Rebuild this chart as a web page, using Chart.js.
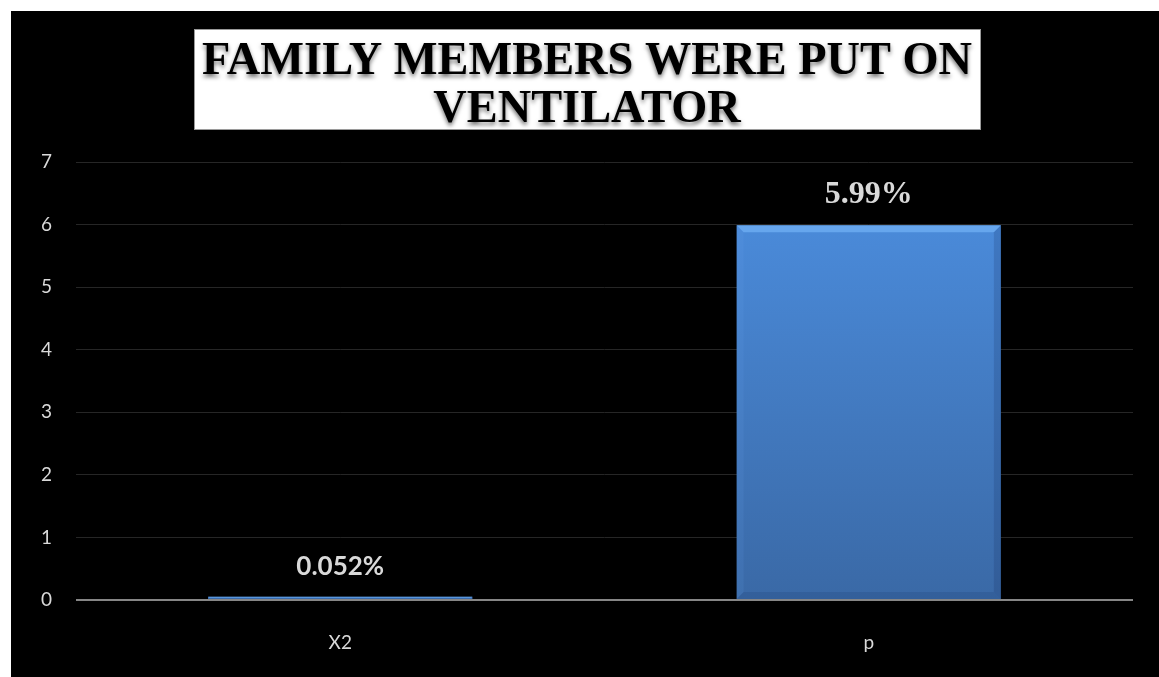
<!DOCTYPE html>
<html>
<head>
<meta charset="utf-8">
<script src="https://cdn.jsdelivr.net/npm/chart.js@4"></script>
<style>
  body { margin: 0; background: #fff; }
  #wrap { position: absolute; left: 11px; top: 11px; width: 1148px; height: 666px; background: #000; }
</style>
</head>
<body>
<div id="wrap"><canvas id="ventChart"></canvas></div>
<script>
// categories and values
const categories = ['X2', 'p'];
const values = [0.052, 5.99];
const valueLabels = ['0.052%', '5.99%'];
const titleLines = ['FAMILY MEMBERS WERE PUT ON', 'VENTILATOR'];

// fonts for the value labels above each bar
const valueFonts = ['bold 26px Lato', 'bold 32px "Liberation Serif"'];

// bar fill: top to bottom gradient per bar
function barFill(c) {
  const chart = c.chart;
  if (!chart.chartArea || c.type !== 'data') return '#4a86d4';
  const top = chart.scales.y.getPixelForValue(c.raw);
  const base = chart.scales.y.getPixelForValue(0);
  const g = chart.ctx.createLinearGradient(0, top, 0, Math.max(base, top + 1));
  g.addColorStop(0, '#4a8ad9');
  g.addColorStop(1, '#3a69a6');
  return g;
}

// white title box with shadowed serif caps
const titleBox = {
  id: 'titleBox',
  afterDraw(chart) {
    const ctx = chart.ctx;
    ctx.save();
    ctx.fillStyle = '#fff';
    ctx.fillRect(183, 18, 787, 101);
    ctx.strokeStyle = '#9a9a9a';
    ctx.lineWidth = 1;
    ctx.strokeRect(183.5, 18.5, 786, 100);
    ctx.font = 'bold 47px "Liberation Serif"';
    ctx.textAlign = 'center';
    ctx.textBaseline = 'alphabetic';
    const sx = 770 / ctx.measureText(titleLines[0]).width;
    ctx.shadowColor = 'rgba(0,0,0,0.55)';
    ctx.shadowOffsetY = 3;
    ctx.shadowBlur = 4;
    ctx.fillStyle = '#000';
    ctx.translate(576, 0);
    ctx.scale(sx, 1);
    ctx.fillText(titleLines[0], 0, 63);
    ctx.fillText(titleLines[1], 0, 111);
    ctx.restore();
  }
};

// bevel edges and value labels on the bars
const barDeco = {
  id: 'barDeco',
  afterDatasetsDraw(chart) {
    const ctx = chart.ctx;
    const meta = chart.getDatasetMeta(0);
    ctx.save();
    meta.data.forEach((bar, i) => {
      const x0 = bar.x - bar.width / 2, x1 = bar.x + bar.width / 2;
      const y0 = bar.y, y1 = bar.base;
      const b = Math.min(7, (y1 - y0) / 2);
      const poly = (pts, col) => {
        ctx.beginPath();
        ctx.moveTo(pts[0][0], pts[0][1]);
        pts.slice(1).forEach(p => ctx.lineTo(p[0], p[1]));
        ctx.closePath();
        ctx.fillStyle = col;
        ctx.fill();
      };
      poly([[x0, y0], [x1, y0], [x1 - b, y0 + b], [x0 + b, y0 + b]], 'rgba(125,190,255,0.55)');
      poly([[x0, y0], [x0 + b, y0 + b], [x0 + b, y1 - b], [x0, y1]], 'rgba(110,165,235,0.12)');
      poly([[x1, y0], [x1 - b, y0 + b], [x1 - b, y1 - b], [x1, y1]], 'rgba(15,40,90,0.18)');
      poly([[x0, y1], [x0 + b, y1 - b], [x1 - b, y1 - b], [x1, y1]], 'rgba(15,40,90,0.15)');

      ctx.font = valueFonts[i];
      ctx.fillStyle = '#d9d9d9';
      ctx.textAlign = 'center';
      ctx.textBaseline = 'middle';
      ctx.fillText(valueLabels[i], bar.x, bar.y - 30);
    });
    ctx.restore();
  }
};

const ventData = {
  labels: categories,
  datasets: [{
    data: values,
    backgroundColor: barFill,
    borderWidth: 0,
    categoryPercentage: 0.5,
    barPercentage: 1
  }]
};

const ventConfig = {
  type: 'bar',
  data: ventData,
  options: {
    responsive: true,
    maintainAspectRatio: false,
    animation: false,
    layout: { padding: { top: 151, right: 26, left: 0, bottom: 0 } },
    plugins: {
      legend: { display: false },
      tooltip: { enabled: false },
      title: { display: false }
    },
    scales: {
      x: {
        grid: { display: false },
        border: { display: false },
        ticks: { color: '#d9d9d9', font: { family: 'Lato', size: 19 }, padding: 23 },
        afterFit(s) { s.height = 77; }
      },
      y: {
        min: 0,
        max: 7,
        ticks: { stepSize: 1, color: '#d9d9d9', font: { family: 'Lato', size: 19 }, padding: 24 },
        grid: {
          drawTicks: false,
          color: c => (c.tick && c.tick.value === 0 ? '#868686' : '#262626'),
          lineWidth: c => (c.tick && c.tick.value === 0 ? 2 : 1)
        },
        border: { display: false },
        afterFit(s) { s.width = 65; }
      }
    }
  },
  plugins: [barDeco, titleBox]
};

const ventChart = new Chart(document.getElementById('ventChart'), ventConfig);
</script>
</body>
</html>
